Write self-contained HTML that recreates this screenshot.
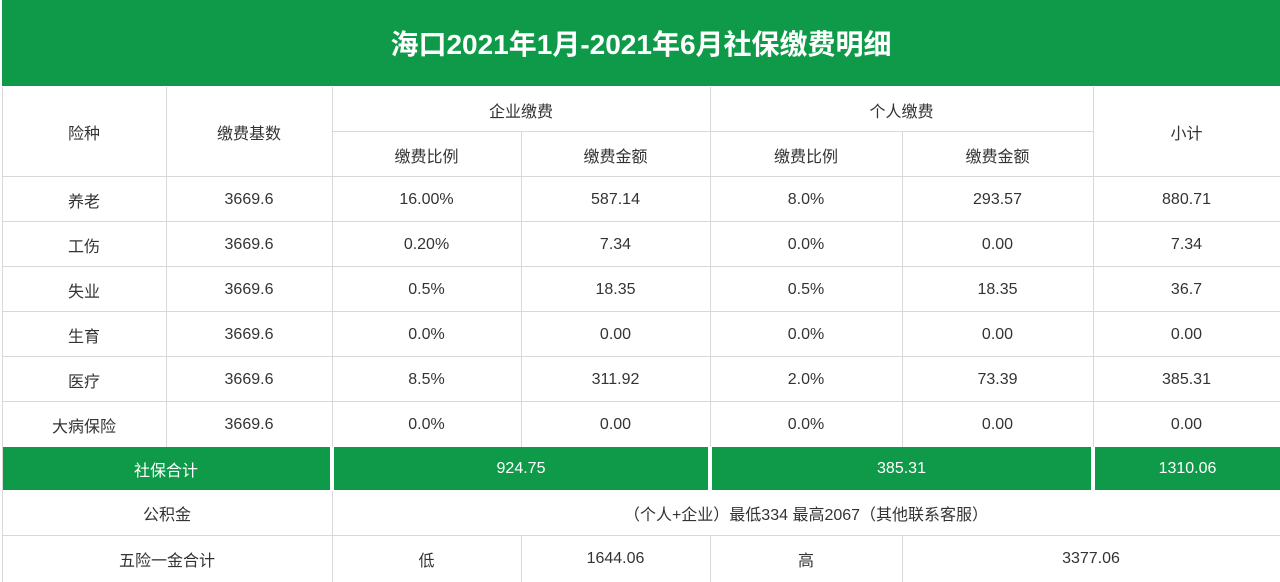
<!DOCTYPE html>
<html><head><meta charset="utf-8"><style>
body{margin:0;width:1280px;height:582px;background:#fff;overflow:hidden;font-family:"Liberation Sans","Noto Sans CJK SC",sans-serif;}
.c{position:absolute;display:flex;align-items:center;justify-content:center;box-sizing:border-box;font-size:16px;color:#333;}
.g{background:#0e9a48;color:#fff;}
.hl{position:absolute;background:#d8d8d8;}
</style></head><body>
<div class="c g" style="left:2px;top:0;width:1278px;height:86px;font-size:28px;font-weight:bold;">海口2021年1月-2021年6月社保缴费明细</div>
<div id="t"></div>
<script>
const cols=[2,166,332,521,710,902,1093,1280];
const rowsY=[177,222,267,312,357,402,447];
const names=["养老","工伤","失业","生育","医疗","大病保险"];
const base=["3669.6","3669.6","3669.6","3669.6","3669.6","3669.6"];
const entRate=["16.00%","0.20%","0.5%","0.0%","8.5%","0.0%"];
const entAmt=["587.14","7.34","18.35","0.00","311.92","0.00"];
const perRate=["8.0%","0.0%","0.5%","0.0%","2.0%","0.0%"];
const perAmt=["293.57","0.00","18.35","0.00","73.39","0.00"];
const sub=["880.71","7.34","36.7","0.00","385.31","0.00"];
const t=document.getElementById('t');
function cell(x1,x2,y1,y2,txt,name,cls){
  const d=document.createElement('div');
  d.className='c'+(cls?' '+cls:'');
  d.style.left=x1+'px';d.style.top=y1+'px';d.style.width=(x2-x1)+'px';d.style.height=(y2-y1)+'px';
  d.textContent=txt;
  
  
  t.appendChild(d);
}
function line(x,y,w,h){
  const d=document.createElement('div');d.className='hl';
  d.style.left=x+'px';d.style.top=y+'px';d.style.width=w+'px';d.style.height=h+'px';
  
  
  t.appendChild(d);
}
// header
cell(2,166,87,177,"险种","header-type");
cell(166,332,87,177,"缴费基数","header-base");
cell(332,710,87,132,"企业缴费","header-enterprise");
cell(710,1093,87,132,"个人缴费","header-personal");
cell(1093,1280,87,177,"小计","header-subtotal");
cell(332,521,132,177,"缴费比例","header-ent-rate");
cell(521,710,132,177,"缴费金额","header-ent-amt");
cell(710,902,132,177,"缴费比例","header-per-rate");
cell(902,1093,132,177,"缴费金额","header-per-amt");
line(332,131,761,1);
line(166,87,1,90);line(332,87,1,90);line(1093,87,1,90);line(710,87,1,90);
line(521,132,1,45);line(902,132,1,45);
for(let i=0;i<names.length;i++){
  const y1=rowsY[i],y2=rowsY[i+1];
  const vals=[names[i],base[i],entRate[i],entAmt[i],perRate[i],perAmt[i],sub[i]];
  line(2,y1-1,1278,1);
  for(let j=0;j<7;j++){
    cell(cols[j],cols[j+1],y1,y2,vals[j],'row-'+i+'-col-'+j);
    if(j>0) line(cols[j],y1,1,y2-y1);
  }
}
cell(2,330,447,490,"社保合计","total-label","g");
cell(334,708,447,490,"924.75","total-enterprise","g");
cell(712,1091,447,490,"385.31","total-personal","g");
cell(1095,1280,447,490,"1310.06","total-all","g");
cell(2,332,491,535,"公积金","fund-label");
cell(332,1280,491,535,"（个人+企业）最低334 最高2067（其他联系客服）","fund-value");
cell(2,332,536,582,"五险一金合计","grand-label");
cell(332,521,536,582,"低","low-label");
cell(521,710,536,582,"1644.06","low-value");
cell(710,902,536,582,"高","high-label");
cell(902,1280,536,582,"3377.06","high-value");
line(2,535,1278,1);line(332,491,1,91);line(521,536,1,46);line(710,536,1,46);line(902,536,1,46);
line(2,87,1,495);
</script>
</body></html>
